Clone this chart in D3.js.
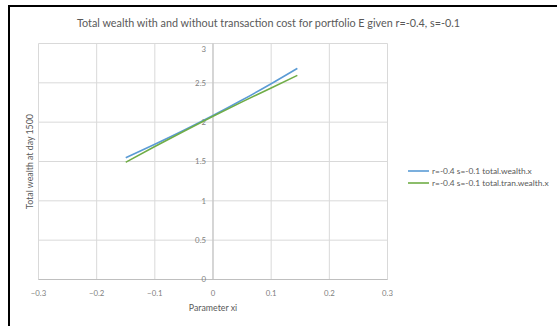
<!DOCTYPE html>
<html><head><meta charset="utf-8">
<script src="https://cdn.jsdelivr.net/npm/d3@7"></script>
<style>
html,body{margin:0;padding:0;background:#fff;}
svg{display:block;font-family:Lato,"Open Sans",sans-serif;}
</style></head>
<body>
<svg id="c" width="557" height="326"></svg>
<script>
const xiValues = [-0.15, -0.10, -0.05, 0.00, 0.05, 0.10, 0.145];
const wealth = [1.547, 1.719, 1.897, 2.084, 2.281, 2.489, 2.684];
const tranWealth = [1.490, 1.690, 1.885, 2.075, 2.258, 2.434, 2.595];
const seriesNames = ["r=-0.4 s=-0.1 total.wealth.x", "r=-0.4 s=-0.1 total.tran.wealth.x"];
const xTicks = [-0.3, -0.2, -0.1, 0, 0.1, 0.2, 0.3];
const yTicks = [0, 0.5, 1, 1.5, 2, 2.5, 3];
const titleText = "Total wealth with and without transaction cost for portfolio E given r=-0.4, s=-0.1";
const xTitle = "Parameter xi";
const yTitle = "Total wealth at day 1500";
const colors = ["#5B9BD5", "#70AD47"];

const svg = d3.select("#c");
// outer frame
svg.append("rect").attr("x", 9).attr("y", 6).attr("width", 600).attr("height", 400)
  .attr("fill", "#fff").attr("stroke", "#000").attr("stroke-width", 2);

const x = d3.scaleLinear().domain([-0.3, 0.3]).range([38.5, 387.5]);
const y = d3.scaleLinear().domain([0, 3]).range([279.5, 43.5]);

// gridlines
svg.append("g").selectAll("line.v").data(xTicks).join("line")
  .attr("x1", d => x(d)).attr("x2", d => x(d)).attr("y1", y(3)).attr("y2", y(0))
  .attr("stroke", "#d9d9d9").attr("stroke-width", 1);
svg.append("g").selectAll("line.h").data(yTicks).join("line")
  .attr("x1", x(-0.3)).attr("x2", x(0.3)).attr("y1", d => y(d)).attr("y2", d => y(d))
  .attr("stroke", "#d9d9d9").attr("stroke-width", 1);

// axes lines
svg.append("line").attr("x1", x(-0.3)).attr("x2", x(0.3)).attr("y1", y(0)).attr("y2", y(0))
  .attr("stroke", "#bfbfbf");
svg.append("line").attr("x1", x(0)).attr("x2", x(0)).attr("y1", y(3)).attr("y2", y(0))
  .attr("stroke", "#bfbfbf");

// x tick labels
svg.append("g").selectAll("text").data(xTicks).join("text")
  .attr("x", d => x(d)).attr("y", y(0) + 16)
  .attr("text-anchor", "middle").attr("font-size", 7.8).attr("fill", "#808080")
  .text(d => d3.format("")(d));

// y tick labels (next to vertical axis at x=0)
svg.append("g").selectAll("text").data(yTicks).join("text")
  .attr("x", x(0) - 7).attr("y", d => Math.max(y(d), y(3) + 6))
  .attr("dy", "0.35em")
  .attr("text-anchor", "end").attr("font-size", 7.8).attr("fill", "#808080")
  .text(d => d3.format("")(d));

// lines
const line = d3.line().x(d => x(d[0])).y(d => y(d[1])).curve(d3.curveMonotoneX);
[wealth, tranWealth].forEach((vals, i) => {
  svg.append("path").datum(xiValues.map((v, j) => [v, vals[j]]))
    .attr("d", line).attr("fill", "none").attr("stroke", colors[i])
    .attr("stroke-width", 1.6).attr("stroke-linejoin", "round");
});

// title
svg.append("text").attr("x", 268.5).attr("y", 27).attr("text-anchor", "middle")
  .attr("font-size", 10.8).attr("fill", "#595959").text(titleText);
// axis titles
svg.append("text").attr("x", x(0)).attr("y", 311).attr("text-anchor", "middle")
  .attr("font-size", 8.8).attr("fill", "#595959").text(xTitle);
svg.append("text").attr("transform", `translate(33,${(y(0)+y(3))/2}) rotate(-90)`)
  .attr("text-anchor", "middle").attr("font-size", 8.8).attr("fill", "#595959").text(yTitle);

// legend
const lg = svg.append("g");
seriesNames.forEach((n, i) => {
  const ly = 171 + i * 12;
  lg.append("line").attr("x1", 408).attr("x2", 429).attr("y1", ly).attr("y2", ly)
    .attr("stroke", colors[i]).attr("stroke-width", 1.6);
  lg.append("text").attr("x", 432).attr("y", ly).attr("dy", "0.35em")
    .attr("font-size", 8.4).attr("fill", "#595959").text(n);
});
</script>
</body></html>
